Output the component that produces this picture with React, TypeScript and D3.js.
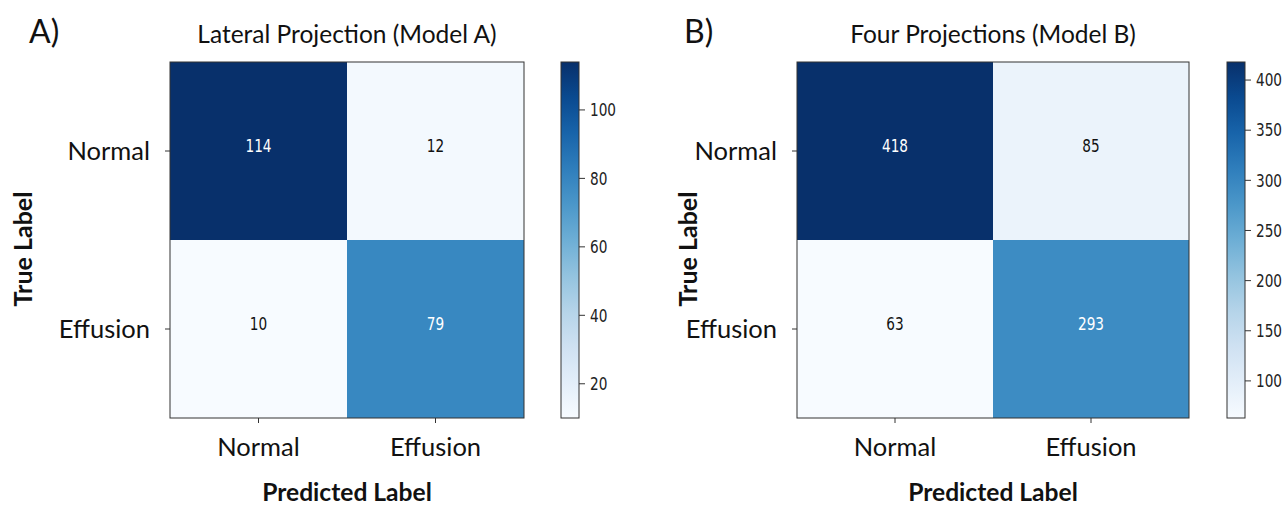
import React from "react";
import * as d3 from "d3";

const classes = ["Normal", "Effusion"];
const panelLetters = ["A)", "B)"];
const titles = ["Lateral Projection (Model A)", "Four Projections (Model B)"];
const matrixA = [
  [114, 12],
  [10, 79],
];
const matrixB = [
  [418, 85],
  [63, 293],
];
const ticksA = [20, 40, 60, 80, 100];
const ticksB = [100, 150, 200, 250, 300, 350, 400];

const W = 1287;
const H = 506;
const labelFont = "Lato, 'Open Sans', sans-serif";
const numFont = "'DejaVu Sans', sans-serif";

// matplotlib's numbers look horizontally squeezed in the picture
function NumText({ x, y, anchor, fill, children }: { x: number; y: number; anchor: string; fill: string; children: React.ReactNode }) {
  return (
    <g transform={`translate(${x},${y}) scale(0.78,1)`}>
      <text x={0} y={0} dy="0.36em" textAnchor={anchor} fontFamily={numFont} fontSize={17.5} fill={fill}>
        {children}
      </text>
    </g>
  );
}

type PanelProps = {
  letter: string;
  title: string;
  matrix: number[][];
  ticks: number[];
  x0: number;
  x1: number;
  cbX: number;
  letterX: number;
  yLabelX: number;
};

function Panel({ letter, title, matrix, ticks, x0, x1, cbX, letterX, yLabelX }: PanelProps) {
  const top = 62;
  const bottom = 418;
  const flat = matrix.flat();
  const vmin = d3.min(flat)!;
  const vmax = d3.max(flat)!;
  const color = d3.scaleSequential(d3.interpolateBlues).domain([vmin, vmax]);

  const x = d3.scaleBand<string>().domain(classes).range([x0, x1]);
  const y = d3.scaleBand<string>().domain(classes).range([top, bottom]);
  const cb = d3.scaleLinear().domain([vmin, vmax]).range([bottom, top]);
  const cbW = 18;
  const gradId = "grad" + letter.replace(")", "");
  const mid = (x0 + x1) / 2;
  const thresh = (vmin + vmax) / 2;

  return (
    <g>
      <defs>
        <linearGradient id={gradId} x1="0" y1="1" x2="0" y2="0">
          {d3.range(0, 1.0001, 0.1).map((t) => (
            <stop key={t} offset={t} stopColor={d3.interpolateBlues(t)} />
          ))}
        </linearGradient>
      </defs>
      <text x={letterX} y={43} fontFamily={labelFont} fontSize={32} fill="#111">
        {letter}
      </text>
      <text x={mid} y={43} textAnchor="middle" fontFamily={labelFont} fontSize={24.5} fill="#111">
        {title}
      </text>
      {matrix.map((row, i) =>
        row.map((v, j) => (
          <g key={`${i}-${j}`}>
            <rect
              x={x(classes[j])}
              y={y(classes[i])}
              width={x.bandwidth()}
              height={y.bandwidth()}
              fill={color(v)}
            />
            <NumText
              x={x(classes[j])! + x.bandwidth() / 2}
              y={y(classes[i])! + y.bandwidth() / 2 - 5}
              anchor="middle"
              fill={v > thresh ? "#fff" : "#111"}
            >
              {v}
            </NumText>
          </g>
        ))
      )}
      <rect x={x0} y={top} width={x1 - x0} height={bottom - top} fill="none" stroke="#333" strokeWidth={1} />
      {classes.map((c) => (
        <g key={"r" + c}>
          <line x1={x0 - 5} x2={x0} y1={y(c)! + y.bandwidth() / 2} y2={y(c)! + y.bandwidth() / 2} stroke="#333" />
          <text
            x={x0 - 20}
            y={y(c)! + y.bandwidth() / 2}
            dy="0.35em"
            textAnchor="end"
            fontFamily={labelFont}
            fontSize={25.5}
            fill="#111"
          >
            {c}
          </text>
          <line x1={x(c)! + x.bandwidth() / 2} x2={x(c)! + x.bandwidth() / 2} y1={bottom} y2={bottom + 5} stroke="#333" />
          <text
            x={x(c)! + x.bandwidth() / 2}
            y={456}
            textAnchor="middle"
            fontFamily={labelFont}
            fontSize={25.5}
            fill="#111"
          >
            {c}
          </text>
        </g>
      ))}
      <text
        transform={`translate(${yLabelX},249) rotate(-90)`}
        textAnchor="middle"
        fontFamily={labelFont}
        fontWeight="bold"
        fontSize={25}
        fill="#111"
      >
        True Label
      </text>
      <text x={mid} y={501} textAnchor="middle" fontFamily={labelFont} fontWeight="bold" fontSize={24.6} fill="#111">
        Predicted Label
      </text>
      <rect x={cbX} y={top} width={cbW} height={bottom - top} fill={`url(#${gradId})`} stroke="#333" strokeWidth={1} />
      {ticks.map((t) => (
        <g key={"t" + t}>
          <line x1={cbX + cbW} x2={cbX + cbW + 6} y1={cb(t)} y2={cb(t)} stroke="#333" />
          <NumText x={cbX + cbW + 11} y={cb(t)} anchor="start" fill="#222">
            {t}
          </NumText>
        </g>
      ))}
    </g>
  );
}

export default function App() {
  return (
    <svg width={W} height={H} style={{ position: "absolute", left: 0, top: 0, background: "#fff" }}>
      <Panel
        letter={panelLetters[0]}
        title={titles[0]}
        matrix={matrixA}
        ticks={ticksA}
        x0={170}
        x1={524}
        cbX={561}
        letterX={29}
        yLabelX={32}
      />
      <Panel
        letter={panelLetters[1]}
        title={titles[1]}
        matrix={matrixB}
        ticks={ticksB}
        x0={797}
        x1={1189}
        cbX={1227}
        letterX={684}
        yLabelX={697}
      />
    </svg>
  );
}
